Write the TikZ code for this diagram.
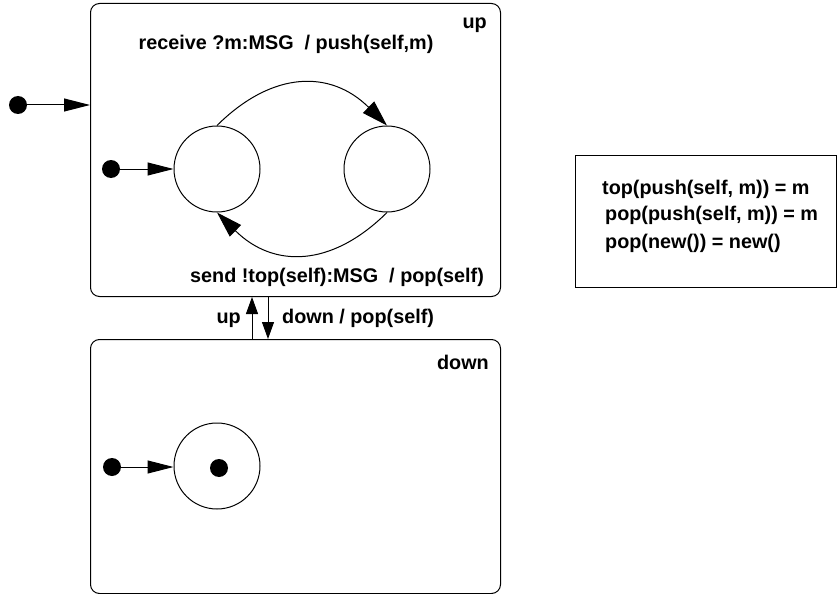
\documentclass[tikz,border=0pt]{standalone}
\usepackage{fontspec}
\setmainfont{Liberation Sans}
\usetikzlibrary{arrows.meta}
\tikzset{
  lbl/.style={inner sep=0pt, font=\fontsize{19.8}{24}\selectfont\bfseries},
  statebox/.style={draw, line width=1pt, rounded corners=9pt, anchor=north west, inner sep=0pt},
  st/.style={draw, circle, line width=1pt, minimum size=86pt, inner sep=0pt},
  initdot/.style={fill, circle, minimum size=18pt, inner sep=0pt},
  bigarr/.style={line width=1pt, -{Triangle[length=26pt,width=13pt]}},
  arcarr/.style={line width=1pt, -{Triangle[length=26pt,width=16pt]}},
  smallarr/.style={line width=1pt, -{Triangle[length=17pt,width=12pt]}},
}
\begin{document}
\begin{tikzpicture}[x=1pt, y=-1pt]
\useasboundingbox (0,0) rectangle (839,594);

% composite states
\node[statebox, minimum width=410pt, minimum height=293pt] (up) at (90,3) {};
\node[statebox, minimum width=410pt, minimum height=254pt] (down) at (90,339) {};

% state names
\node[lbl, anchor=base east] (upname) at (487,29) {up};
\node[lbl, anchor=base east] (downname) at (489,369) {down};

% initial transition into "up"
\node[initdot] (i0) at (18,105) {};
\draw[bigarr] (i0) -- (i0 -| up.west);

% substates of "up"
\node[st] (s1) at (217,169) {};
\node[st] (s2) at (387,169) {};
\node[initdot] (i1) at (111,169) {};
\draw[bigarr] (i1) -- (s1.west);

\draw[arcarr] (s1.north) .. controls (273,70) and (331,70) .. (s2.north);
\draw[arcarr] (s2.south) .. controls (331,268) and (273,268) .. (s1.south);

\node[lbl, anchor=base] (recv) at (286,50) {receive ?m:MSG\ \ / push(self,m)};
\node[lbl, anchor=base] (send) at (337,282) {send !top(self):MSG\ \ / pop(self)};

% transitions between "up" and "down"
\draw[smallarr] ([xshift=162pt]down.north west) -- ([xshift=162pt]up.south west);
\draw[smallarr] ([xshift=178pt]up.south west) -- ([xshift=178pt]down.north west);
\node[lbl, anchor=base east] (uplbl) at (241,323) {up};
\node[lbl, anchor=base west] (downlbl) at (282,323) {down / pop(self)};

% substate of "down"
\node[st] (d1) at (217,466) {};
\node[initdot] (d1dot) at (219,468) {};
\node[initdot] (i2) at (112,467) {};
\draw[bigarr] (i2) -- (i2 -| d1.west);

% axioms
\node[draw, line width=1pt, anchor=north west, minimum width=261pt, minimum height=132pt, inner sep=0pt] (ax) at (575,155) {};
\node[lbl, anchor=base west] (ax1) at (602,194) {top(push(self, m)) = m};
\node[lbl, anchor=base west] (ax2) at (605,220) {pop(push(self, m)) = m};
\node[lbl, anchor=base west] (ax3) at (605,248) {pop(new()) = new()};
\end{tikzpicture}
\end{document}
